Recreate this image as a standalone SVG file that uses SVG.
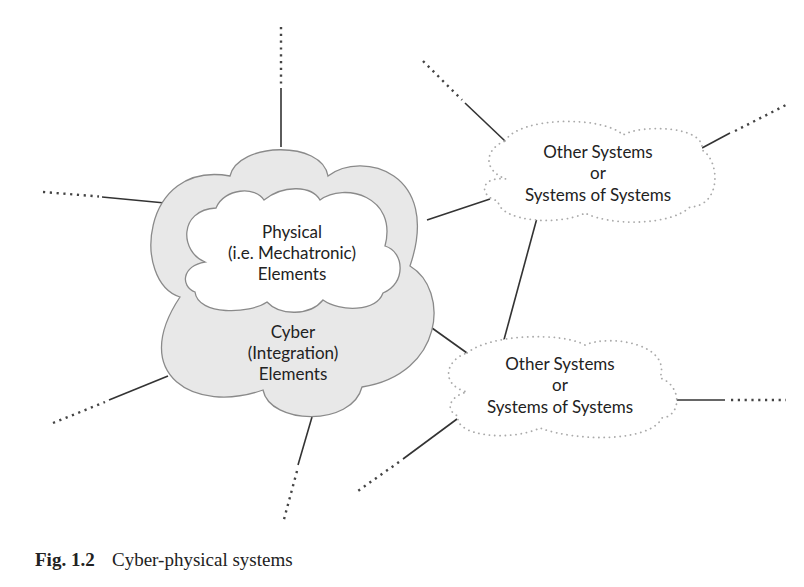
<svg xmlns="http://www.w3.org/2000/svg" width="804" height="587" viewBox="0 0 804 587">
<style>
.solid{stroke:#333;stroke-width:1.6;fill:none}
.dots{stroke:#444;stroke-width:2.4;fill:none;stroke-dasharray:2.2 4.6}
.outer{fill:#e8e8e8;stroke:#8a8a8a;stroke-width:1.3}
.inner{fill:#fff;stroke:#8a8a8a;stroke-width:1.3}
.sys{fill:#fff;stroke:#aaa;stroke-width:1.8;stroke-dasharray:0.1 5.2;stroke-linecap:round}
.lbl{font-family:Lato,"Liberation Sans",sans-serif;font-size:17px;fill:#222;text-anchor:middle}
.cap{font-family:"Liberation Serif",serif;font-size:19px;fill:#222}
</style>
<g id="connectors">
  <line class="dots" x1="281" y1="27" x2="281" y2="84"/>
  <line class="solid" x1="281" y1="88" x2="281" y2="147"/>
  <line class="dots" x1="43" y1="192" x2="99" y2="196.5"/>
  <line class="solid" x1="102" y1="197" x2="165" y2="203"/>
  <line class="dots" x1="53" y1="423" x2="105" y2="402"/>
  <line class="solid" x1="109" y1="400" x2="168" y2="376"/>
  <line class="solid" x1="312" y1="417" x2="298" y2="465"/>
  <line class="dots" x1="297" y1="471" x2="283" y2="523"/>
  <line class="solid" x1="427" y1="220" x2="490" y2="199"/>
  <line class="solid" x1="432" y1="328" x2="467" y2="353"/>
  <line class="solid" x1="537" y1="218" x2="502" y2="347"/>
  <line class="dots" x1="423" y1="61" x2="462" y2="100"/>
  <line class="solid" x1="465" y1="103" x2="505" y2="141"/>
  <line class="solid" x1="702" y1="148" x2="730" y2="133"/>
  <line class="dots" x1="735" y1="131" x2="786" y2="105"/>
  <line class="solid" x1="672" y1="400" x2="725" y2="400"/>
  <line class="dots" x1="731" y1="400" x2="786" y2="400"/>
  <line class="solid" x1="457" y1="419" x2="403" y2="459"/>
  <line class="dots" x1="399" y1="462" x2="355" y2="493"/>
</g>
<g id="cyber">
  <path class="outer" d="M230,176 C238,142 322,140 328,176 C362,150 442,172 410,266 C450,290 444,374 362,387 C352,427 270,425 263,390 C195,414 128,375 180,297 C132,282 140,160 230,176 Z"/>
  <text class="lbl" x="293" y="338">Cyber</text>
  <text class="lbl" x="293" y="359">(Integration)</text>
  <text class="lbl" x="293" y="380">Elements</text>
</g>
<g id="physical">
  <path class="inner" d="M205,262 C180,252 178,210 216,208 C224,188 256,186 264,200 C284,184 312,186 320,200 C344,182 398,196 385,246 C405,252 406,284 383,293 C376,312 340,312 323,300 C310,316 280,316 267,302 C250,314 198,316 195,292 C180,286 182,266 205,262 Z"/>
  <text class="lbl" x="292" y="238">Physical</text>
  <text class="lbl" x="292" y="259">(i.e. Mechatronic)</text>
  <text class="lbl" x="292" y="280">Elements</text>
</g>
<g id="system1">
  <path class="sys" d="M505,141 C520,116 604,116 623,135 C642,124 706,126 702,150 C720,160 722,206 690,207 C670,226 610,226 585,213 C560,226 500,222 498,201 C478,196 480,176 506,179 C482,170 485,149 505,141 Z"/>
  <text class="lbl" x="598" y="158">Other Systems</text>
  <text class="lbl" x="598" y="179">or</text>
  <text class="lbl" x="598" y="201">Systems of Systems</text>
</g>
<g id="system2">
  <path class="sys" d="M467,353 C490,334 562,332 585,345 C610,334 672,344 660,378 C682,385 682,416 662,418 C650,442 578,442 540,428 C510,442 454,436 458,416 C444,410 450,396 467,392 C440,385 445,360 467,353 Z"/>
  <text class="lbl" x="560" y="370">Other Systems</text>
  <text class="lbl" x="560" y="391">or</text>
  <text class="lbl" x="560" y="413">Systems of Systems</text>
</g>
<g id="caption">
  <text class="cap" x="35" y="566"><tspan font-weight="bold">Fig. 1.2</tspan><tspan x="112">Cyber-physical systems</tspan></text>
</g>
</svg>
